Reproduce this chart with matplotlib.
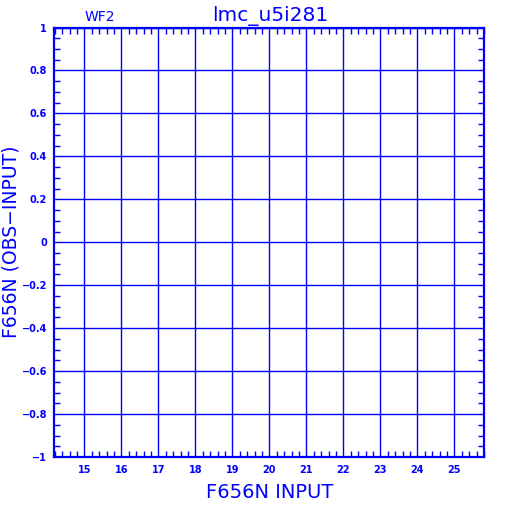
import matplotlib
matplotlib.use("Agg")
import matplotlib.pyplot as plt
import numpy as np
from matplotlib.ticker import MultipleLocator

BLUE = "#0000ff"
x_ticks = [15, 16, 17, 18, 19, 20, 21, 22, 23, 24, 25]
y_ticks = [-1, -0.8, -0.6, -0.4, -0.2, 0, 0.2, 0.4, 0.6, 0.8, 1]
y_labels = ["\u22121", "\u22120.8", "\u22120.6", "\u22120.4", "\u22120.2", "0", "0.2", "0.4", "0.6", "0.8", "1"]
title = "lmc_u5i281"
chip = "WF2"
xlabel = "F656N INPUT"
ylabel = "F656N (OBS\u2212INPUT)"

fig = plt.figure(figsize=(5.12, 5.12), dpi=100)
ax = fig.add_axes([54/512, 1-457/512, 430/512, 429.5/512])
ax.set_xlim(14.18, 25.8)
ax.set_ylim(-1, 1)

ax.set_xticks(x_ticks)
ax.set_xticklabels([str(v) for v in x_ticks])
ax.set_yticks(y_ticks)
ax.set_yticklabels(y_labels)
ax.xaxis.set_minor_locator(MultipleLocator(0.2))
ax.yaxis.set_minor_locator(MultipleLocator(0.05))

ax.grid(True, which="major", color=BLUE, linewidth=1.0)
ax.tick_params(which="both", direction="in", colors=BLUE, top=True, right=True,
               labelsize=7)
ax.tick_params(axis="y", which="major", length=0, pad=5)
ax.tick_params(axis="x", which="major", length=0, pad=6)
ax.tick_params(which="minor", length=4, width=1.0)
for lab in ax.get_xticklabels() + ax.get_yticklabels():
    lab.set_fontweight("bold")
    lab.set_color(BLUE)
for s in ax.spines.values():
    s.set_color(BLUE)
    s.set_linewidth(1.6)

fig.text(270/512, 1-16/512, title, color=BLUE, fontsize=14.5, ha="center", va="center")
fig.text(100/512, 1-17/512, chip, color=BLUE, fontsize=10, ha="center", va="center")
fig.text(270/512, 1-492/512, xlabel, color=BLUE, fontsize=14, ha="center", va="center")
fig.text(11/512, 1-242/512, ylabel, color=BLUE, fontsize=13.5, ha="center", va="center", rotation=90)

fig.savefig("out.png", dpi=100, facecolor="white")
